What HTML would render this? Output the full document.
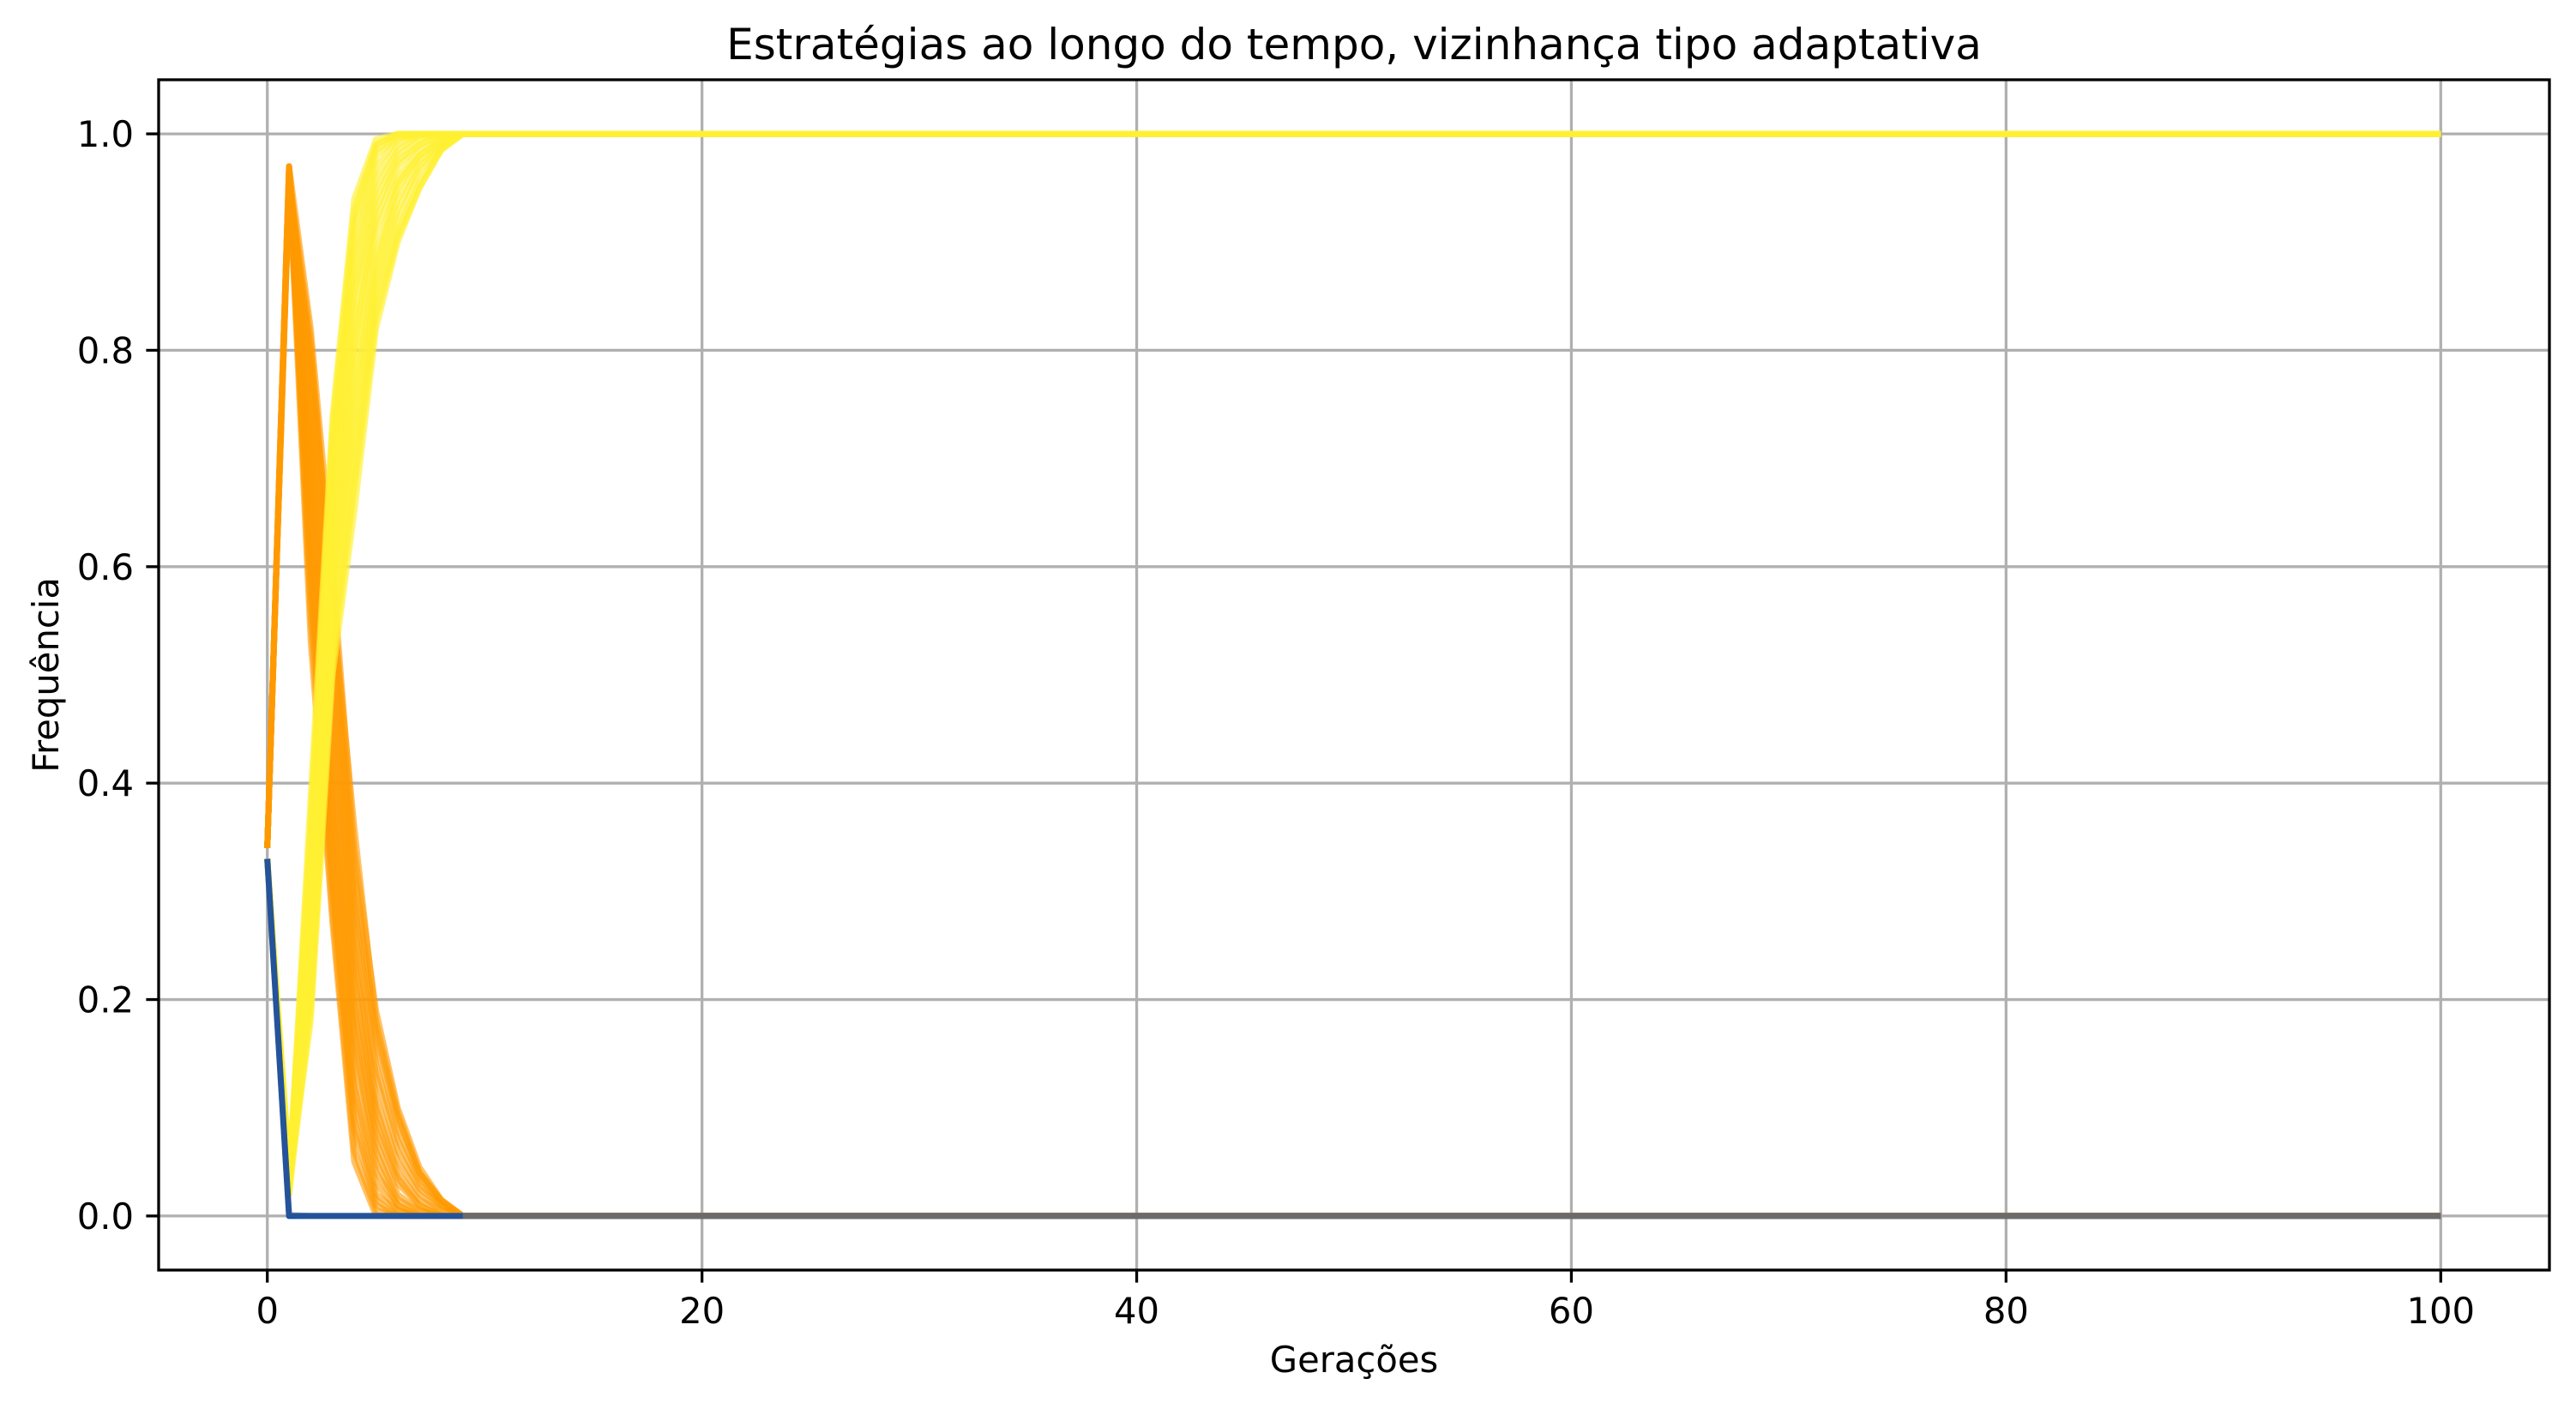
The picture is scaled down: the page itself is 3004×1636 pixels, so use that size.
<!DOCTYPE html>
<html><head><meta charset="utf-8">
<style>
html,body{margin:0;padding:0;background:#fff;}
svg{display:block;font-family:"DejaVu Sans","Liberation Sans",sans-serif;}
</style></head>
<body>
<svg id="chart" width="3004" height="1636" viewBox="0 0 3004 1636" xmlns="http://www.w3.org/2000/svg">
<rect x="0" y="0" width="3004" height="1636" fill="#fff"/>
<text x="1579" y="69" font-size="50" text-anchor="middle" fill="#000">Estratégias ao longo do tempo, vizinhança tipo adaptativa</text>
<text x="1579" y="1600" font-size="41.7" text-anchor="middle" fill="#000">Gerações</text>
<text transform="translate(68,787) rotate(-90)" font-size="41.7" text-anchor="middle" fill="#000">Frequência</text>
<g id="grid"></g>
<g id="series"></g>
<g id="axes"></g>
</svg>
<script>
// ---- data ----
const xTicks = [0, 20, 40, 60, 80, 100];
const yTicks = [0.0, 0.2, 0.4, 0.6, 0.8, 1.0];
const yTickLabels = ["0.0", "0.2", "0.4", "0.6", "0.8", "1.0"];
const generations = [0, 1, 2, 3, 4, 5, 6, 7, 8, 9, 10, 100];
const orangeRuns = [
  [0.34, 0.96, 0.53, 0.27, 0.05, 0, 0, 0, 0, 0, 0, 0],
  [0.34, 0.97, 0.55, 0.28, 0.06, 0.005, 0, 0, 0, 0, 0, 0],
  [0.34, 0.96, 0.57, 0.30, 0.08, 0.01, 0, 0, 0, 0, 0, 0],
  [0.34, 0.95, 0.59, 0.31, 0.09, 0.015, 0, 0, 0, 0, 0, 0],
  [0.34, 0.96, 0.60, 0.33, 0.11, 0.02, 0.005, 0, 0, 0, 0, 0],
  [0.34, 0.97, 0.62, 0.35, 0.12, 0.03, 0.005, 0, 0, 0, 0, 0],
  [0.34, 0.96, 0.64, 0.37, 0.14, 0.04, 0.01, 0, 0, 0, 0, 0],
  [0.34, 0.95, 0.66, 0.38, 0.16, 0.05, 0.01, 0, 0, 0, 0, 0],
  [0.34, 0.96, 0.67, 0.40, 0.17, 0.06, 0.015, 0.005, 0, 0, 0, 0],
  [0.34, 0.97, 0.69, 0.42, 0.19, 0.07, 0.02, 0.005, 0, 0, 0, 0],
  [0.34, 0.96, 0.70, 0.44, 0.20, 0.08, 0.03, 0.01, 0, 0, 0, 0],
  [0.34, 0.96, 0.72, 0.46, 0.22, 0.09, 0.035, 0.01, 0, 0, 0, 0],
  [0.34, 0.95, 0.73, 0.48, 0.24, 0.10, 0.04, 0.015, 0.005, 0, 0, 0],
  [0.34, 0.96, 0.75, 0.50, 0.25, 0.11, 0.05, 0.02, 0.005, 0, 0, 0],
  [0.34, 0.97, 0.76, 0.52, 0.27, 0.13, 0.06, 0.025, 0.01, 0, 0, 0],
  [0.34, 0.96, 0.78, 0.54, 0.29, 0.14, 0.07, 0.03, 0.01, 0, 0, 0],
  [0.34, 0.96, 0.79, 0.56, 0.30, 0.16, 0.08, 0.035, 0.012, 0, 0, 0],
  [0.34, 0.95, 0.80, 0.58, 0.32, 0.17, 0.09, 0.04, 0.014, 0, 0, 0],
  [0.34, 0.97, 0.82, 0.60, 0.34, 0.19, 0.10, 0.045, 0.015, 0, 0, 0],
  [0.34, 0.96, 0.81, 0.57, 0.36, 0.18, 0.095, 0.04, 0.015, 0, 0, 0]
];
const yellowRuns = [
  [0.33, 0.03, 0.39, 0.74, 0.94, 0.995, 1, 1, 1, 1, 1, 1],
  [0.33, 0.04, 0.37, 0.73, 0.93, 0.99, 1, 1, 1, 1, 1, 1],
  [0.33, 0.03, 0.36, 0.72, 0.92, 0.99, 1, 1, 1, 1, 1, 1],
  [0.33, 0.02, 0.35, 0.70, 0.91, 0.985, 0.998, 1, 1, 1, 1, 1],
  [0.33, 0.04, 0.33, 0.69, 0.89, 0.98, 0.997, 1, 1, 1, 1, 1],
  [0.33, 0.03, 0.32, 0.68, 0.88, 0.97, 0.995, 1, 1, 1, 1, 1],
  [0.33, 0.05, 0.31, 0.66, 0.86, 0.96, 0.99, 1, 1, 1, 1, 1],
  [0.33, 0.03, 0.29, 0.65, 0.85, 0.95, 0.985, 0.998, 1, 1, 1, 1],
  [0.33, 0.04, 0.28, 0.63, 0.83, 0.94, 0.98, 0.995, 1, 1, 1, 1],
  [0.33, 0.02, 0.27, 0.62, 0.81, 0.93, 0.975, 0.99, 1, 1, 1, 1],
  [0.33, 0.03, 0.26, 0.61, 0.80, 0.92, 0.97, 0.99, 0.998, 1, 1, 1],
  [0.33, 0.04, 0.25, 0.59, 0.78, 0.91, 0.96, 0.985, 0.995, 1, 1, 1],
  [0.33, 0.03, 0.24, 0.58, 0.76, 0.89, 0.955, 0.98, 0.995, 1, 1, 1],
  [0.33, 0.02, 0.23, 0.57, 0.75, 0.88, 0.95, 0.98, 0.993, 1, 1, 1],
  [0.33, 0.03, 0.22, 0.56, 0.73, 0.87, 0.94, 0.975, 0.99, 1, 1, 1],
  [0.33, 0.04, 0.21, 0.54, 0.71, 0.86, 0.93, 0.97, 0.99, 1, 1, 1],
  [0.33, 0.03, 0.20, 0.53, 0.70, 0.85, 0.92, 0.965, 0.988, 1, 1, 1],
  [0.33, 0.02, 0.19, 0.52, 0.68, 0.84, 0.91, 0.955, 0.986, 1, 1, 1],
  [0.33, 0.03, 0.18, 0.50, 0.65, 0.82, 0.90, 0.95, 0.985, 1, 1, 1],
  [0.33, 0.04, 0.20, 0.51, 0.67, 0.83, 0.905, 0.95, 0.985, 1, 1, 1]
];
const blueRun = [0.33, 0, 0, 0, 0, 0, 0, 0, 0, 0, 0, 0];
const grayRun = [0.33, 0.001, 0, 0, 0, 0, 0, 0, 0, 0, 0, 0];
const grayTailStart = 9;

// ---- axes ----
const NS = "http://www.w3.org/2000/svg";
const L = 185, R = 2973, T = 93, B = 1481;
const xMin = -5, xMax = 105, yMin = -0.05, yMax = 1.05;
function sx(v){ return L + (v - xMin) / (xMax - xMin) * (R - L); }
function sy(v){ return B - (v - yMin) / (yMax - yMin) * (B - T); }
function mk(tag, attrs, parent){
  const el = document.createElementNS(NS, tag);
  for (const k in attrs) el.setAttribute(k, attrs[k]);
  parent.appendChild(el);
  return el;
}
const grid = document.getElementById('grid');
const series = document.getElementById('series');
const axes = document.getElementById('axes');

xTicks.forEach(function(t){
  const g = mk('line', {x1: sx(t), x2: sx(t), y1: T, y2: B, stroke: '#b0b0b0', 'stroke-width': 3.3}, grid);
  
  
  const tk = mk('line', {x1: sx(t), x2: sx(t), y1: B, y2: B + 14.6, stroke: '#000', 'stroke-width': 3.3}, axes);
  
  
  const lb = mk('text', {x: sx(t), y: B + 62, 'font-size': 41.7, 'text-anchor': 'middle', fill: '#000'}, axes);
  lb.textContent = String(t);
  
  
});
yTicks.forEach(function(t, i){
  const g = mk('line', {x1: L, x2: R, y1: sy(t), y2: sy(t), stroke: '#b0b0b0', 'stroke-width': 3.3}, grid);
  
  
  const tk = mk('line', {x1: L - 14.6, x2: L, y1: sy(t), y2: sy(t), stroke: '#000', 'stroke-width': 3.3}, axes);
  
  
  const lb = mk('text', {x: L - 29, y: sy(t) + 15, 'font-size': 41.7, 'text-anchor': 'end', fill: '#000'}, axes);
  lb.textContent = yTickLabels[i];
  
  
});
const frame = mk('rect', {x: L, y: T, width: R - L, height: B - T, fill: 'none', stroke: '#000', 'stroke-width': 3.3}, axes);



function pathFor(vals, start){
  start = start || 0;
  let d = '';
  for (let i = start; i < vals.length; i++) {
    d += (i === start ? 'M' : 'L') + sx(generations[i]).toFixed(1) + ',' + sy(vals[i]).toFixed(1) + ' ';
  }
  return d;
}
function drawLine(vals, color, opacity, name, start){
  const p = mk('path', {d: pathFor(vals, start), fill: 'none', stroke: color, 'stroke-opacity': opacity, 'stroke-width': 7, 'stroke-linejoin': 'round', 'stroke-linecap': 'butt'}, series);
  
  
}
orangeRuns.forEach(function(r){ drawLine(r, '#ff9900', 0.6, 'orange-run-line'); });
yellowRuns.forEach(function(r){ drawLine(r, '#fff033', 0.65, 'yellow-run-line'); });
drawLine(blueRun, '#0047b3', 1, 'blue-run-line');
drawLine(grayRun, '#6b6b6b', 0.35, 'gray-run-line');
drawLine(grayRun, '#6b6b6b', 1, 'gray-run-line-tail', grayTailStart);
</script>
</body></html>
